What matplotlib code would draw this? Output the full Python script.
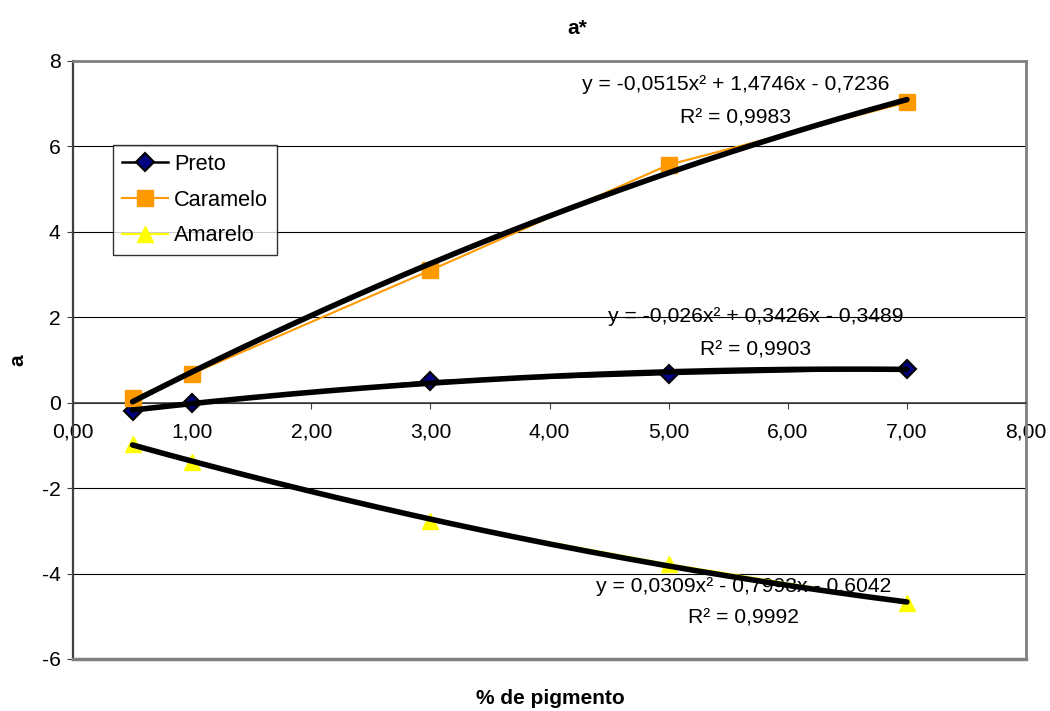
import numpy as np
import matplotlib
matplotlib.use("Agg")
from matplotlib import pyplot as plt
from matplotlib.ticker import FuncFormatter, MultipleLocator

plt.rcParams['font.family'] = ['Liberation Sans', 'DejaVu Sans']
plt.rcParams['axes.unicode_minus'] = False

pigmento = [0.5, 1, 3, 5, 7]
preto = [-0.2, 0.0, 0.5, 0.67, 0.8]
caramelo = [0.1, 0.68, 3.1, 5.57, 7.03]
amarelo = [-0.97, -1.38, -2.76, -3.78, -4.68]

eq_preto = ["y = -0,026x² + 0,3426x - 0,3489", "R² = 0,9903"]
eq_caramelo = ["y = -0,0515x² + 1,4746x - 0,7236", "R² = 0,9983"]
eq_amarelo = ["y = 0,0309x² - 0,7993x - 0,6042", "R² = 0,9992"]

fig = plt.figure(figsize=(10.5, 7.11), dpi=100)
ax = fig.add_axes([73 / 1050, 1 - 659 / 711, (1026 - 73) / 1050, (659 - 61) / 711])

fs = 15.2

# equation labels (under the lines)
ax.text(5.56, 7.45, eq_caramelo[0], ha='center', va='center', fontsize=fs, zorder=0.4)
ax.text(5.56, 6.67, eq_caramelo[1], ha='center', va='center', fontsize=fs, zorder=0.4)
ax.text(5.73, 2.01, eq_preto[0], ha='center', va='center', fontsize=fs, zorder=0.4)
ax.text(5.73, 1.24, eq_preto[1], ha='center', va='center', fontsize=fs, zorder=0.4)
ax.text(5.63, -4.31, eq_amarelo[0], ha='center', va='center', fontsize=fs, zorder=0.4)
ax.text(5.63, -5.04, eq_amarelo[1], ha='center', va='center', fontsize=fs, zorder=0.4)

ax.plot(pigmento, preto, '-', color='black', lw=1.8, marker='D', ms=9,
        mfc='#000080', mec='black', mew=1.5, label='Preto', zorder=3)
ax.plot(pigmento, caramelo, '-', color='#FF9900', lw=1.5, marker='s', ms=11,
        mfc='#FF9900', mec='#FF9900', label='Caramelo', zorder=3)
ax.plot(pigmento, amarelo, '-', color='#FFFF00', lw=1.5, marker='^', ms=12,
        mfc='#FFFF00', mec='#FFFF00', label='Amarelo', zorder=3)

# polynomial trendlines (order 2) fitted from the data
xs = np.linspace(min(pigmento), max(pigmento), 200)
for serie in (preto, caramelo, amarelo):
    coef = np.polyfit(pigmento, serie, 2)
    ax.plot(xs, np.polyval(coef, xs), color='black', lw=4, solid_capstyle='round', zorder=4)

ax.set_xlim(0, 8)
ax.set_ylim(-6, 8)
ax.xaxis.set_major_locator(MultipleLocator(1))
ax.yaxis.set_major_locator(MultipleLocator(2))
ax.xaxis.set_major_formatter(FuncFormatter(lambda v, p: f"{v:.2f}".replace('.', ',')))
ax.yaxis.set_major_formatter(FuncFormatter(lambda v, p: f"{v:.0f}"))

ax.set_axisbelow(True)
ax.yaxis.grid(True, color='black', lw=0.8)

ax.spines['bottom'].set_position(('data', 0))
ax.spines['bottom'].set_color('#404040')
ax.spines['bottom'].set_linewidth(1.2)
ax.spines['left'].set_color('#404040')
ax.spines['left'].set_linewidth(1.6)
for s in ('top', 'right'):
    ax.spines[s].set_color('#808080')
    ax.spines[s].set_linewidth(2)
ax.axhline(-6, color='#808080', lw=2.5, clip_on=False, zorder=5)

ax.tick_params(axis='x', direction='out', length=4, pad=10, labelsize=fs, color='#404040')
ax.tick_params(axis='y', direction='out', length=4, pad=5, labelsize=fs, color='#404040')

leg = ax.legend(loc='upper left', bbox_to_anchor=((113 - 73) / 953, (659 - 145) / 598),
                fontsize=fs + 0.5, frameon=True, fancybox=False, edgecolor='black',
                borderpad=0.4, labelspacing=0.68, handlelength=2.1, handletextpad=0.3,
                borderaxespad=0)
leg.get_frame().set_linewidth(1.0)

fig.text(577 / 1050, 1 - 28 / 711, "a*", ha='center', va='center', fontsize=15, fontweight='bold')
fig.text(550 / 1050, 1 - 698 / 711, "% de pigmento", ha='center', va='center', fontsize=15, fontweight='bold')
fig.text(18 / 1050, 1 - 360 / 711, "a", ha='center', va='center', fontsize=15, fontweight='bold', rotation=90)

fig.savefig("out.png", dpi=100)
